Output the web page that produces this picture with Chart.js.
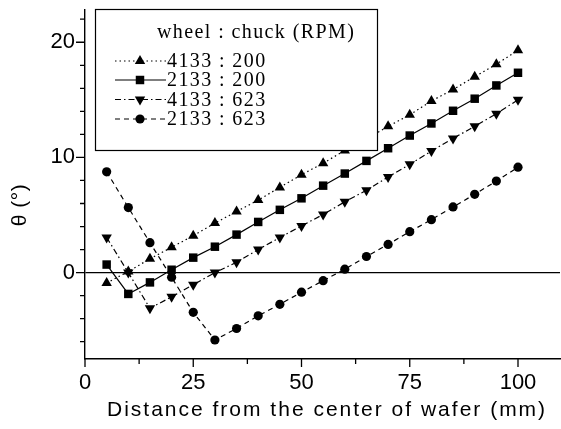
<!DOCTYPE html>
<html>
<head>
<meta charset="utf-8">
<script src="https://cdn.jsdelivr.net/npm/chart.js@4.4.1/dist/chart.umd.min.js"></script>
<style>
  html, body { margin: 0; padding: 0; background: #fff; }
  #wrap { width: 561px; height: 429px; }
</style>
</head>
<body>
<div id="wrap"><canvas id="tiltChart" width="561" height="429"></canvas></div>
<script>
// distance from the wafer centre (mm)
const distance = [5, 10, 15, 20, 25, 30, 35, 40, 45, 50, 55, 60, 65, 70, 75, 80, 85, 90, 95, 100];

// tilt angle theta (deg) for each wheel : chuck speed pair
const wheel4133chuck200 = [-0.9, 0.1, 1.2, 2.2, 3.2, 4.3, 5.3, 6.3, 7.4, 8.5, 9.5, 10.6, 11.6, 12.7, 13.7, 14.9, 15.9, 17.0, 18.1, 19.3];
const wheel2133chuck200 = [0.7, -1.85, -0.85, 0.25, 1.3, 2.25, 3.3, 4.4, 5.45, 6.45, 7.55, 8.6, 9.7, 10.8, 11.9, 12.95, 14.05, 15.1, 16.25, 17.35];
const wheel4133chuck623 = [3.05, 0.0, -3.1, -2.1, -1.05, 0.0, 0.9, 2.0, 3.05, 4.05, 5.05, 6.15, 7.15, 8.3, 9.4, 10.55, 11.65, 12.7, 13.8, 15.0];
const wheel2133chuck623 = [8.75, 5.65, 2.6, -0.4, -3.45, -5.85, -4.85, -3.75, -2.75, -1.7, -0.7, 0.3, 1.4, 2.45, 3.55, 4.6, 5.7, 6.8, 7.95, 9.15];

const seriesLabels = ['4133 : 200', '2133 : 200', '4133 : 623', '2133 : 623'];
const legendTitle = 'wheel : chuck (RPM)';
const xTitle = 'Distance from the center of wafer (mm)';
const yTitle = 'θ (°)';

const xMajorTicks = [0, 25, 50, 75, 100];
const xMinorTicks = [12.5, 37.5, 62.5, 87.5];
const yMajorTicks = [0, 10, 20];
const yMinorTicks = [-6, -4, -2, 2, 4, 6, 8, 12, 14, 16, 18, 22];

const styles = [
  { dash: [1.5, 3], pointStyle: 'triangle', radius: 6, rotation: 0 },
  { dash: [], pointStyle: 'rect', radius: 6, rotation: 0 },
  { dash: [6, 3, 1.5, 3], pointStyle: 'triangle', radius: 6, rotation: 180 },
  { dash: [5, 4], pointStyle: 'circle', radius: 4.6, rotation: 0 }
];

const seriesValues = [wheel4133chuck200, wheel2133chuck200, wheel4133chuck623, wheel2133chuck623];

const datasets = seriesValues.map((vals, i) => ({
  label: seriesLabels[i],
  data: distance.map((d, j) => ({ x: d, y: vals[j] })),
  borderColor: '#000',
  backgroundColor: '#000',
  borderWidth: 1.2,
  borderDash: styles[i].dash,
  pointStyle: styles[i].pointStyle,
  pointRadius: styles[i].radius,
  pointRotation: styles[i].rotation,
  pointBorderWidth: 0,
  fill: false,
  tension: 0
}));

// tick marks, axis titles and the boxed legend
const decorations = {
  id: 'decorations',
  afterDraw(chart) {
    const ctx = chart.ctx;
    const area = chart.chartArea;
    const xs = chart.scales.x, ys = chart.scales.y;
    ctx.save();
    ctx.strokeStyle = '#000';
    ctx.fillStyle = '#000';
    ctx.lineWidth = 1.3;
    ctx.setLineDash([]);
    ctx.beginPath();
    yMajorTicks.forEach(v => { const p = ys.getPixelForValue(v); ctx.moveTo(area.left - 9, p); ctx.lineTo(area.left, p); });
    yMinorTicks.forEach(v => { const p = ys.getPixelForValue(v); ctx.moveTo(area.left - 5, p); ctx.lineTo(area.left, p); });
    xMajorTicks.forEach(v => { const p = xs.getPixelForValue(v); ctx.moveTo(p, area.bottom); ctx.lineTo(p, area.bottom + 8); });
    xMinorTicks.forEach(v => { const p = xs.getPixelForValue(v); ctx.moveTo(p, area.bottom); ctx.lineTo(p, area.bottom + 5); });
    ctx.stroke();

    // axis titles
    ctx.font = '21px "Liberation Sans", Arial, sans-serif';
    ctx.textBaseline = 'middle';
    ctx.textAlign = 'left';
    ctx.letterSpacing = '2px';
    ctx.fillText(xTitle, 107, 410);
    ctx.letterSpacing = '0.5px';
    ctx.save();
    ctx.translate(20, 205);
    ctx.rotate(-Math.PI / 2);
    ctx.textAlign = 'center';
    ctx.fillText(yTitle, 0, 0);
    ctx.restore();

    // legend box
    const bx = 95.5, by = 9.5, bw = 282, bh = 141;
    ctx.fillStyle = '#fff';
    ctx.fillRect(bx, by, bw, bh);
    ctx.strokeStyle = '#000';
    ctx.lineWidth = 1.2;
    ctx.strokeRect(bx, by, bw, bh);
    ctx.fillStyle = '#000';
    ctx.font = '20px "Liberation Serif", "Times New Roman", serif';
    ctx.letterSpacing = '1.4px';
    ctx.fillText(legendTitle, 157, 33);
    const rowY = [61, 80, 99.5, 119];
    datasets.forEach((ds, i) => {
      const y = rowY[i];
      ctx.lineWidth = 1.2;
      ctx.setLineDash(ds.borderDash);
      ctx.beginPath();
      ctx.moveTo(115, y);
      ctx.lineTo(166, y);
      ctx.stroke();
      ctx.setLineDash([]);
      Chart.helpers.drawPoint(ctx, {
        pointStyle: ds.pointStyle,
        radius: ds.pointRadius,
        rotation: ds.pointRotation,
        borderWidth: 0
      }, 140, y);
      ctx.fillText(ds.label, 167, y + 1);
    });
    ctx.restore();
  }
};

new Chart(document.getElementById('tiltChart'), {
  type: 'line',
  data: { datasets: datasets },
  options: {
    responsive: false,
    animation: false,
    devicePixelRatio: 1,
    layout: { autoPadding: false, padding: { left: 0, top: 10, right: 1, bottom: 0 } },
    plugins: { legend: { display: false }, tooltip: { enabled: false } },
    scales: {
      x: {
        type: 'linear',
        min: 0,
        max: 109.7,
        afterBuildTicks: s => { s.ticks = xMajorTicks.map(v => ({ value: v })); },
        afterFit: s => { s.height = 70; s.paddingLeft = 0; s.paddingRight = 0; },
        grid: { display: false, drawTicks: false },
        border: { display: true, color: '#000', width: 1.4 },
        ticks: {
          color: '#000',
          padding: 11,
          maxRotation: 0,
          font: { family: '"Liberation Sans", Arial, sans-serif', size: 22 }
        }
      },
      y: {
        min: -7.5,
        max: 22.8,
        afterBuildTicks: s => { s.ticks = yMajorTicks.map(v => ({ value: v })); },
        afterFit: s => { s.width = 85; s.paddingTop = 0; s.paddingBottom = 0; },
        grid: {
          drawTicks: false,
          color: c => (c.tick && c.tick.value === 0 ? '#000' : 'rgba(0,0,0,0)'),
          lineWidth: 1.2
        },
        border: { display: true, color: '#000', width: 1.4 },
        ticks: {
          color: '#000',
          padding: 10,
          font: { family: '"Liberation Sans", Arial, sans-serif', size: 22 }
        }
      }
    }
  },
  plugins: [decorations]
});
</script>
</body>
</html>
